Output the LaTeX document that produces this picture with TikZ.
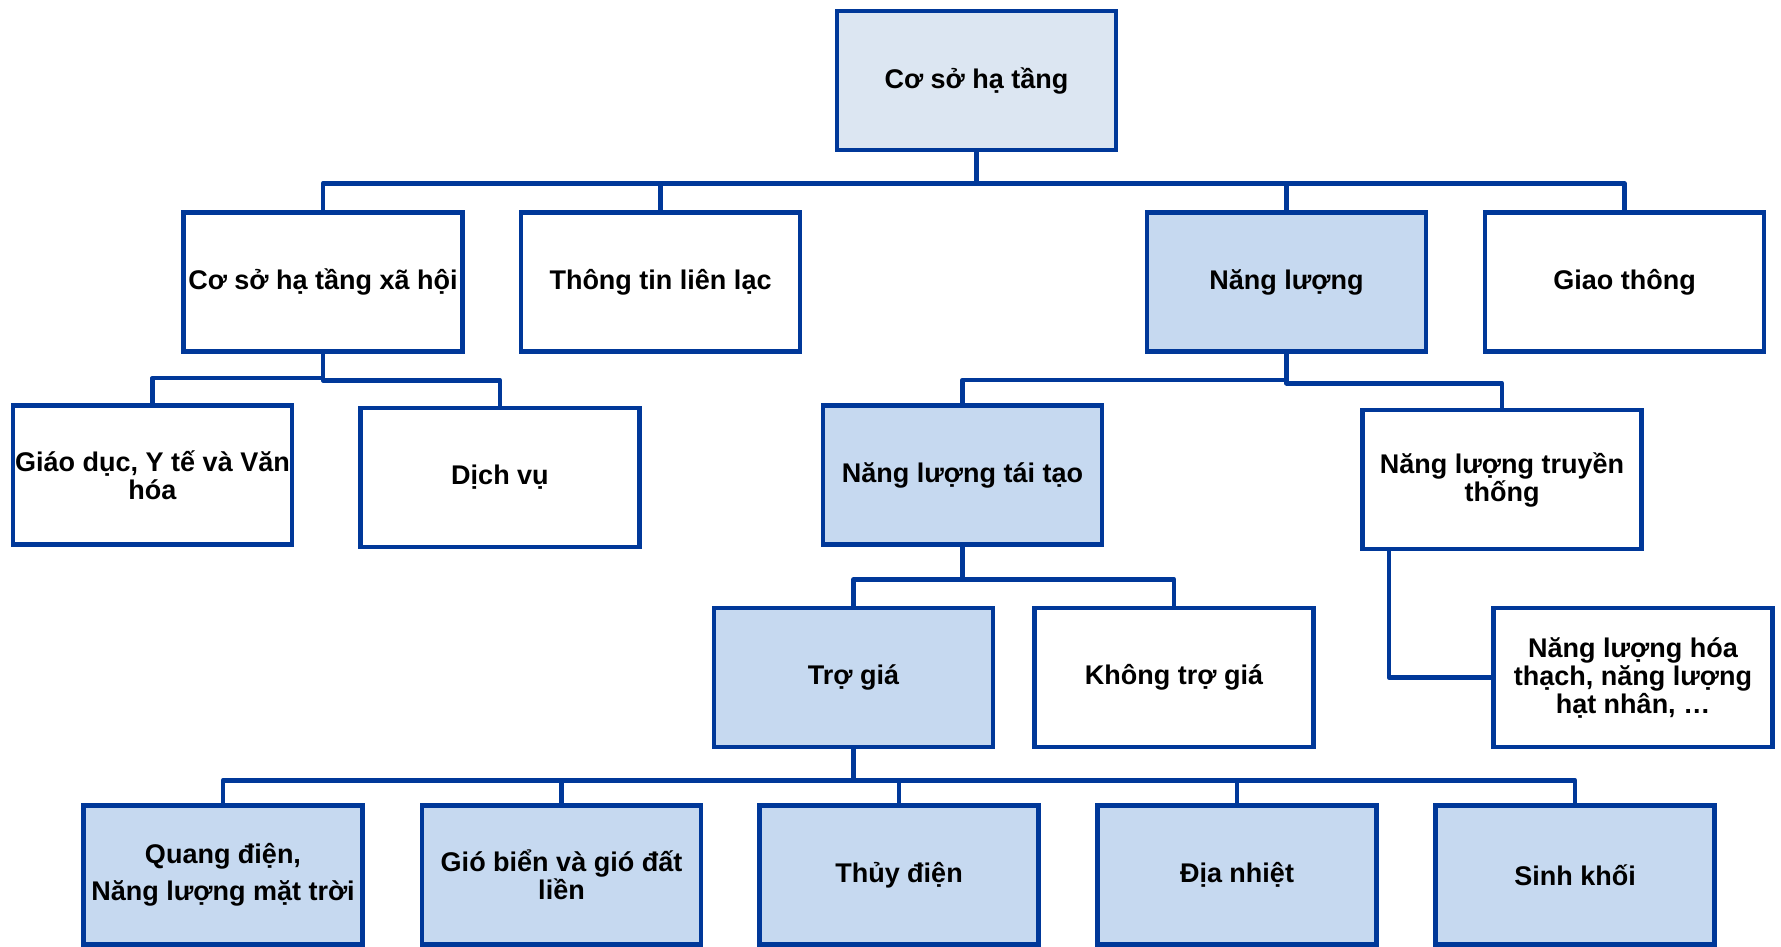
\documentclass[tikz,border=0pt]{standalone}
\usepackage{fontspec}
\setmainfont{Liberation Sans}
\definecolor{edge}{RGB}{0,56,153}
\definecolor{fillb}{RGB}{198,217,240}
\definecolor{filltop}{RGB}{220,230,242}
\tikzset{
  box/.style={draw=edge, line width=4.5pt, rectangle, minimum width=279pt, minimum height=139pt,
    inner sep=2pt, align=center,
    font=\fontsize{27}{28}\selectfont\bfseries},
  boxblue/.style={box, fill=fillb},
  conn/.style={draw=edge, line width=4.5pt, line join=round}
}
\begin{document}
\begin{tikzpicture}[x=1pt,y=-1pt]
\useasboundingbox (0,0) rectangle (1781,946);
% level 1
\node[box, fill=filltop] (top) at (976.5,80.5) {Cơ sở hạ tầng};
% level 2
\node[box] (xh) at (323,282) {Cơ sở hạ tầng xã hội};
\node[box] (tt) at (660.5,282) {Thông tin liên lạc};
\node[boxblue] (nl) at (1286.5,282) {Năng lượng};
\node[box] (gt) at (1624.5,282) {Giao thông};
% level 3
\node[box] (gd) at (152.5,475) {Giáo dục, Y tế và Văn\\hóa};
\node[box] (dv) at (500,477.5) {Dịch vụ};
\node[boxblue] (tao) at (962.5,475) {Năng lượng tái tạo};
\node[box] (trad) at (1502,479.5) {Năng lượng truyền\\thống};
% level 4
\node[boxblue] (trg) at (853.5,677.5) {Trợ giá};
\node[box] (ktg) at (1174,677.5) {Không trợ giá};
\node[box] (foss) at (1633,677.5) {Năng lượng hóa\\thạch, năng lượng\\hạt nhân, …};
% level 5
\node[boxblue] (qd) at (223,875) {Quang điện,\\[9pt]Năng lượng mặt trời};
\node[boxblue] (gb) at (561.5,875) {Gió biển và gió đất\\liền};
\node[boxblue] (td) at (899,875) {Thủy điện};
\node[boxblue] (dn) at (1237,875) {Địa nhiệt};
\node[boxblue] (sk) at (1575,875) {Sinh khối};
% connectors level 1-2
\foreach \c in {xh,tt,nl,gt}
  \draw[conn] (top.south) -- ++(0,31) -| (\c.north);
% xh children
\draw[conn] (xh.south) -- ++(0,24) -| (gd.north);
\draw[conn] (xh.south) -- ++(0,26.5) -| (dv.north);
% nl children
\draw[conn] (nl.south) -- ++(0,26) -| (tao.north);
\draw[conn] (nl.south) -- ++(0,29.5) -| (trad.north);
% tao children
\foreach \c in {trg,ktg}
  \draw[conn] (tao.south) -- ++(0,32.5) -| (\c.north);
% trad to fossil
\draw[conn] (trad.south west) ++(28.5,0) |- (foss.west);
% trg children
\foreach \c in {qd,gb,td,dn,sk}
  \draw[conn] (trg.south) -- ++(0,31) -| (\c.north);
\end{tikzpicture}
\end{document}
